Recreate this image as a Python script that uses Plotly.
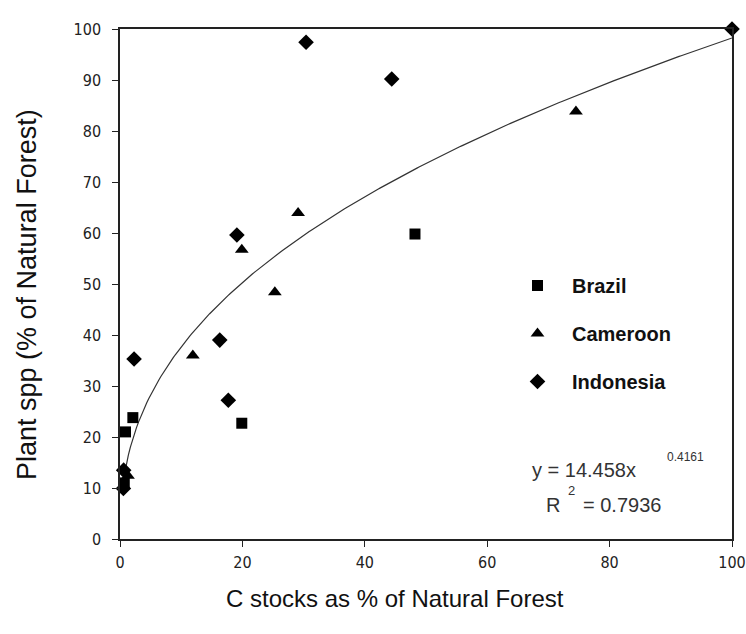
import numpy as np
import plotly.graph_objects as go

# Data
brazil_x = [48.2, 19.9, 2.1, 0.9, 0.7]
brazil_y = [59.8, 22.7, 23.8, 21.0, 11.0]

cameroon_x = [74.5, 29.1, 19.9, 25.3, 11.9, 1.3]
cameroon_y = [83.8, 63.9, 56.7, 48.4, 36.0, 12.4]

indonesia_x = [100.0, 30.4, 44.4, 19.1, 16.3, 2.3, 17.7, 0.6, 0.55]
indonesia_y = [100.0, 97.4, 90.2, 59.6, 39.0, 35.3, 27.2, 13.5, 9.9]

# Power trendline coefficients (from the reference's equation)
fit_a = 14.458
fit_b = 0.4161
fit_r2 = 0.7936

x_ticks = [0, 20, 40, 60, 80, 100]
y_ticks = [0, 10, 20, 30, 40, 50, 60, 70, 80, 90, 100]

fit_x = np.linspace(0.7, 100, 300)
fit_y = fit_a * fit_x ** fit_b

fig = go.Figure()
fig.add_trace(go.Scatter(x=fit_x, y=fit_y, mode="lines",
                         line=dict(color="#333333", width=1.2),
                         showlegend=False, hoverinfo="skip"))
fig.add_trace(go.Scatter(x=brazil_x, y=brazil_y, mode="markers", name="Brazil",
                         legendgroup="b", cliponaxis=False,
                         marker=dict(symbol="square", size=11, color="black")))
fig.add_trace(go.Scatter(x=cameroon_x, y=cameroon_y, mode="markers", name="Cameroon",
                         legendgroup="c", cliponaxis=False,
                         marker=dict(symbol="triangle-up", size=12, color="black")))
fig.add_trace(go.Scatter(x=indonesia_x, y=indonesia_y, mode="markers", name="Indonesia",
                         legendgroup="i", cliponaxis=False,
                         marker=dict(symbol="diamond", size=12, color="black")))

tick_font = dict(family="DejaVu Sans Condensed, Liberation Sans Narrow, Arial", size=16, color="#222222")
axis_common = dict(showline=True, linecolor="#222222", linewidth=1.5, mirror=True,
                   showgrid=False, zeroline=False, ticks="outside", ticklen=6,
                   tickcolor="#222222", tickfont=tick_font, automargin=False)

fig.update_xaxes(range=[0, 100], tickvals=x_ticks, ticklabelstandoff=2, **axis_common)
fig.update_yaxes(range=[0, 100], tickvals=y_ticks, ticklabelstandoff=8, **axis_common)

# target plot area in screenshot pixels (page body margin removed below)
PW, PH, L0, B0 = 612, 510, 120, 539
FW, FH = 746, 634


def px(xp):
    return (xp - L0) / PW


def py(yp):
    return (B0 - yp) / PH


def note(text, x, y, size, xanchor="center", color="#333333", angle=0):
    fig.add_annotation(xref="paper", yref="paper", x=px(x), y=py(y),
                       xanchor=xanchor, yanchor="middle", text=text,
                       showarrow=False, textangle=angle,
                       font=dict(family="Liberation Sans, Arial", size=size, color=color))


note("C stocks as % of Natural Forest", 395, 598, 24, color="#111111")
note("Plant spp (% of Natural Forest)", 27, 295, 27, color="#111111", angle=-90)

# equation
note("y = %.3fx" % fit_a, 530, 470, 20, xanchor="left")
note("%.4f" % fit_b, 665, 457, 12, xanchor="left")
note("R", 544, 505, 20, xanchor="left")
note("2", 566, 490, 13, xanchor="left")
note("= %.4f" % fit_r2, 581, 505, 20, xanchor="left")

fig.update_layout(
    width=FW, height=FH,
    margin=dict(l=L0, r=FW - (L0 + PW), t=B0 - PH, b=FH - B0),
    plot_bgcolor="white", paper_bgcolor="white",
    legend=dict(x=px(503), y=py(266), xanchor="left", yanchor="top",
                bgcolor="rgba(0,0,0,0)", tracegroupgap=19, itemwidth=59,
                font=dict(family="Liberation Sans, Arial", size=20, color="#111111",
                          weight="bold")),
)

fig.write_html("out.html", config={"displayModeBar": False},
               post_script="document.body.style.margin='0';document.body.style.overflow='hidden';")
